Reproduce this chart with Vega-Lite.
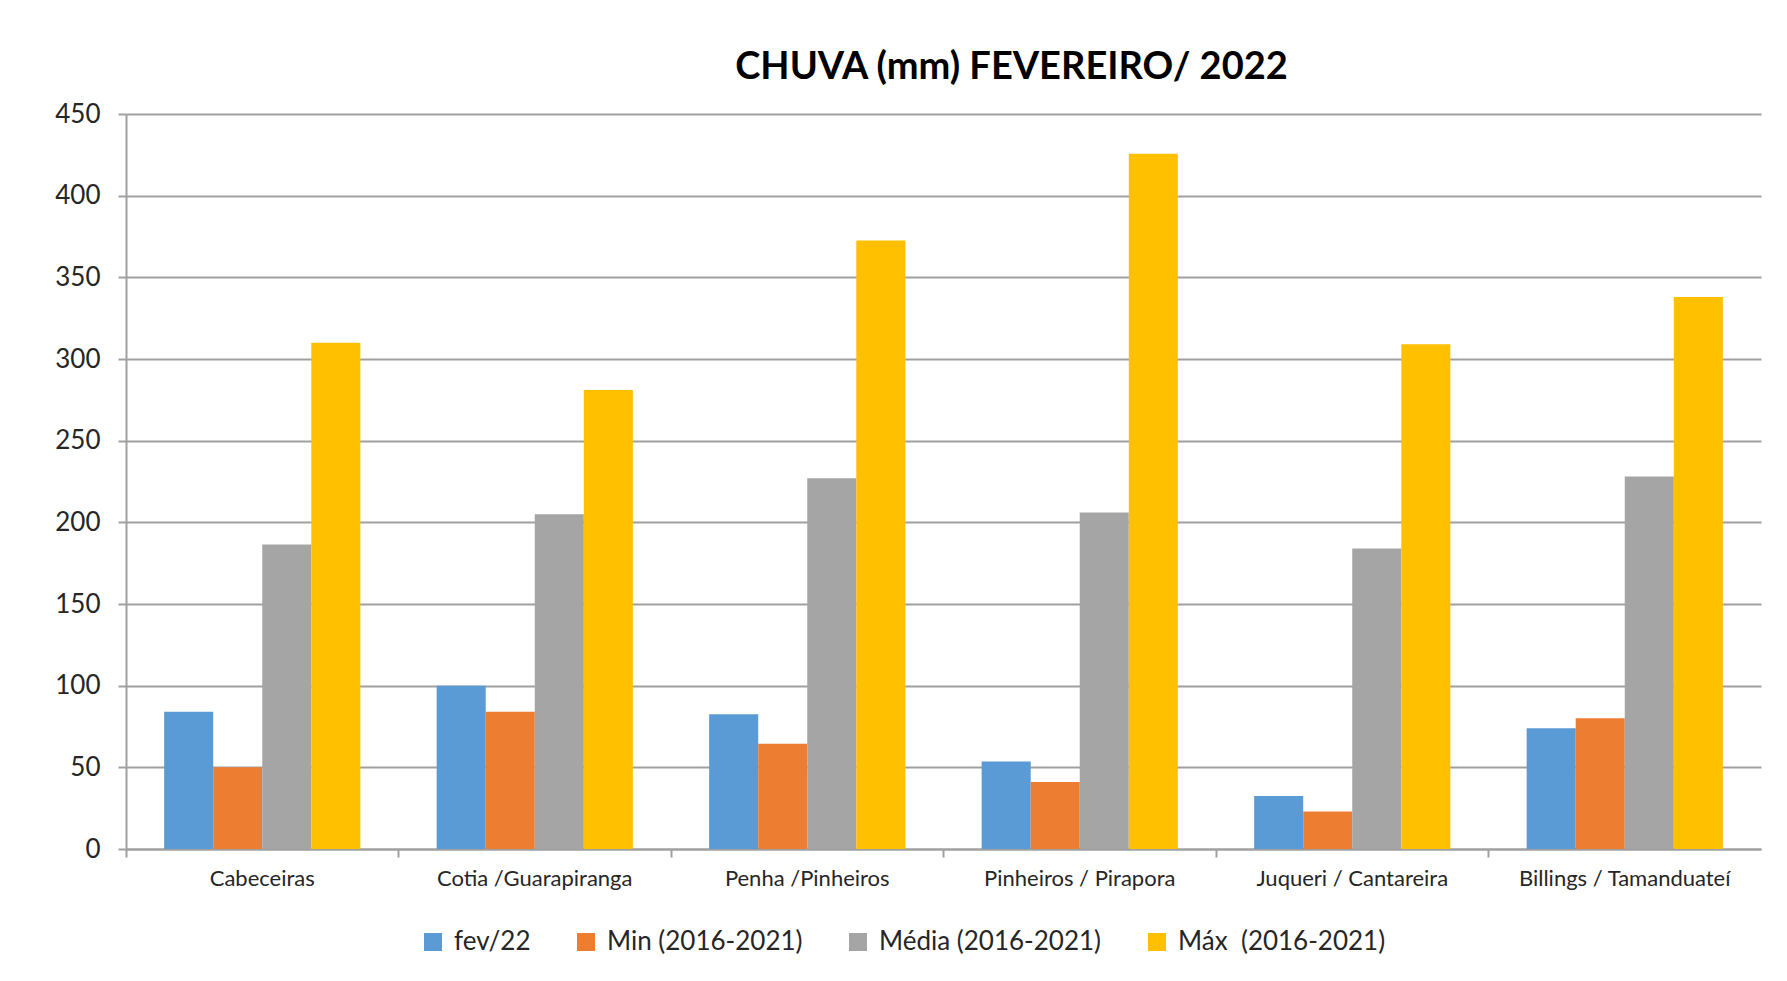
{
  "$schema": "https://vega.github.io/schema/vega-lite/v6.json",
  "autosize": {"type": "none"},
  "padding": {"left": 126, "top": 114, "right": 26, "bottom": 132},
  "width": 1635,
  "height": 735,
  "background": "white",
  "title": {
    "text": "CHUVA (mm) FEVEREIRO/ 2022",
    "font": "Lato",
    "fontSize": 38,
    "fontWeight": "bold",
    "color": "#000000",
    "anchor": "middle",
    "dx": 68,
    "offset": 14
  },
  "data": {
    "values": [
      {"regiao": "Cabeceiras", "serie": "fev/22", "chuva": 84},
      {"regiao": "Cabeceiras", "serie": "Min (2016-2021)", "chuva": 50},
      {"regiao": "Cabeceiras", "serie": "Média (2016-2021)", "chuva": 186.5},
      {"regiao": "Cabeceiras", "serie": "Máx\u00a0 (2016-2021)", "chuva": 310},
      {"regiao": "Cotia /Guarapiranga", "serie": "fev/22", "chuva": 100},
      {"regiao": "Cotia /Guarapiranga", "serie": "Min (2016-2021)", "chuva": 84},
      {"regiao": "Cotia /Guarapiranga", "serie": "Média (2016-2021)", "chuva": 205},
      {"regiao": "Cotia /Guarapiranga", "serie": "Máx\u00a0 (2016-2021)", "chuva": 281},
      {"regiao": "Penha /Pinheiros", "serie": "fev/22", "chuva": 82.5},
      {"regiao": "Penha /Pinheiros", "serie": "Min (2016-2021)", "chuva": 64.5},
      {"regiao": "Penha /Pinheiros", "serie": "Média (2016-2021)", "chuva": 227},
      {"regiao": "Penha /Pinheiros", "serie": "Máx\u00a0 (2016-2021)", "chuva": 372.5},
      {"regiao": "Pinheiros / Pirapora", "serie": "fev/22", "chuva": 53.6},
      {"regiao": "Pinheiros / Pirapora", "serie": "Min (2016-2021)", "chuva": 41},
      {"regiao": "Pinheiros / Pirapora", "serie": "Média (2016-2021)", "chuva": 206},
      {"regiao": "Pinheiros / Pirapora", "serie": "Máx\u00a0 (2016-2021)", "chuva": 425.6},
      {"regiao": "Juqueri / Cantareira", "serie": "fev/22", "chuva": 32.5},
      {"regiao": "Juqueri / Cantareira", "serie": "Min (2016-2021)", "chuva": 23},
      {"regiao": "Juqueri / Cantareira", "serie": "Média (2016-2021)", "chuva": 184},
      {"regiao": "Juqueri / Cantareira", "serie": "Máx\u00a0 (2016-2021)", "chuva": 309},
      {"regiao": "Billings / Tamanduateí", "serie": "fev/22", "chuva": 74},
      {"regiao": "Billings / Tamanduateí", "serie": "Min (2016-2021)", "chuva": 80},
      {"regiao": "Billings / Tamanduateí", "serie": "Média (2016-2021)", "chuva": 228},
      {"regiao": "Billings / Tamanduateí", "serie": "Máx\u00a0 (2016-2021)", "chuva": 338}
    ]
  },
  "mark": {"type": "bar"},
  "encoding": {
    "x": {
      "field": "regiao",
      "type": "nominal",
      "sort": null,
      "scale": {"paddingInner": 0, "paddingOuter": 0},
      "axis": {
        "title": null,
        "labelAngle": 0,
        "bandPosition": 0,
        "labelFont": "Lato",
        "labelFontSize": 22,
        "labelColor": "#262626",
        "labelPadding": 11,
        "labelBaseline": "top",
        "labelLimit": 400,
        "domainColor": "#a0a0a0",
        "domainWidth": 2,
        "tickColor": "#a0a0a0",
        "tickWidth": 2,
        "tickSize": 8,
        "grid": false
      }
    },
    "xOffset": {
      "field": "serie",
      "type": "nominal",
      "sort": ["fev/22", "Min (2016-2021)", "Média (2016-2021)", "Máx\u00a0 (2016-2021)"],
      "scale": {"paddingInner": 0, "paddingOuter": 0.778}
    },
    "y": {
      "field": "chuva",
      "type": "quantitative",
      "scale": {"domain": [0, 450], "nice": false},
      "axis": {
        "title": null,
        "values": [0, 50, 100, 150, 200, 250, 300, 350, 400, 450],
        "labelFont": "Lato",
        "labelFontSize": 26,
        "labelColor": "#262626",
        "labelPadding": 18,
        "domainColor": "#a0a0a0",
        "domainWidth": 2,
        "tickColor": "#a0a0a0",
        "tickWidth": 2,
        "tickSize": 8,
        "grid": true,
        "gridColor": "#a0a0a0",
        "gridWidth": 2
      }
    },
    "color": {
      "field": "serie",
      "type": "nominal",
      "scale": {
        "domain": ["fev/22", "Min (2016-2021)", "Média (2016-2021)", "Máx\u00a0 (2016-2021)"],
        "range": ["#5B9BD5", "#ED7D31", "#A5A5A5", "#FFC000"]
      },
      "legend": {
        "title": null,
        "orient": "none",
        "direction": "horizontal",
        "legendX": 294,
        "legendY": 815,
        "symbolType": "square",
        "symbolSize": 324,
        "symbolStrokeWidth": 0,
        "labelFont": "Lato",
        "labelFontSize": 26,
        "labelColor": "#262626",
        "labelOffset": 8,
        "labelLimit": 400,
        "columnPadding": 42
      }
    }
  },
  "config": {
    "view": {"stroke": null}
  }
}
